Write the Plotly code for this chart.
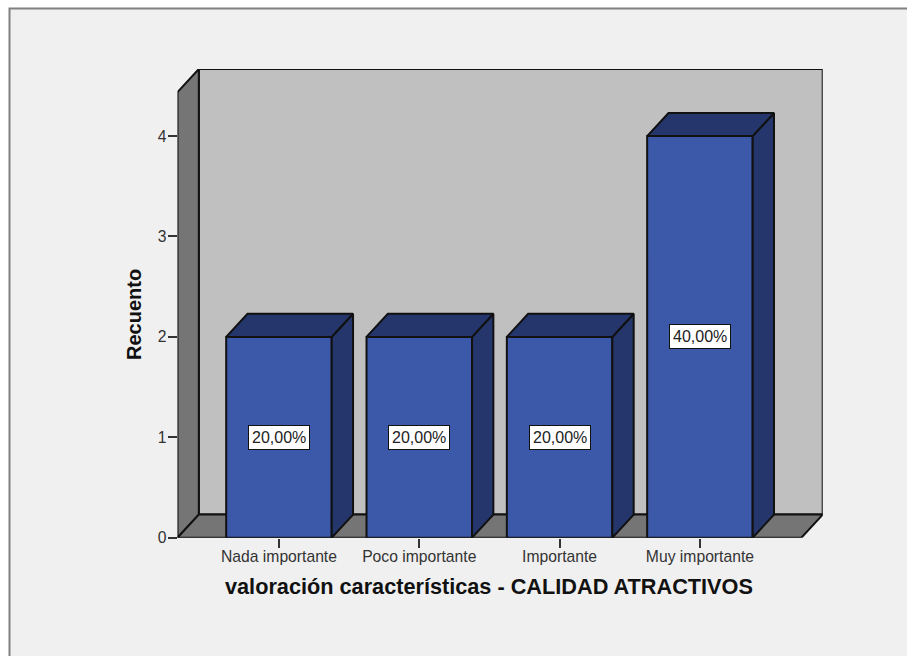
import plotly.graph_objects as go

categories = ["Nada importante", "Poco importante", "Importante", "Muy importante"]
counts = [2, 2, 2, 4]
percent_labels = ["20,00%", "20,00%", "20,00%", "40,00%"]
y_ticks = [0, 1, 2, 3, 4]
x_title = "valoración características - CALIDAD ATRACTIVOS"
y_title = "Recuento"

W, H = 907, 656
HP = 648  # height the plotting area resolves to in the page
FONT = "Liberation Sans"
FRONT, DARK = "#3c58a8", "#24366b"
WALL, SIDE, PANEL = "#c0c0c0", "#757575", "#f0f0f0"
LINE = "#111111"
LW = 2

X_RANGE = [-0.723, 3.875]
Y_RANGE = [0, 4.668]
DX, DY = 0.152, 0.23
BAR_W = 0.752
xs = list(range(len(categories)))

fig = go.Figure()

x0, x1 = X_RANGE
y1 = Y_RANGE[1]
def poly(pts, fill):
    path = "M " + " L ".join(f"{a},{b}" for a, b in pts) + " Z"
    return dict(type="path", xref="x", yref="y", path=path, fillcolor=fill,
                line=dict(color=LINE, width=LW), layer="below")

shapes = [
    dict(type="rect", xref="paper", yref="paper", x0=9.5 / W, x1=1.1,
         y0=-0.1, y1=1 - 8.5 / HP, fillcolor=PANEL,
         line=dict(color="#808080", width=2), layer="below"),
    poly([(x0 + DX, DY), (x1, DY), (x1, y1), (x0 + DX, y1)], WALL),
    poly([(x0, 0), (x0 + DX, DY), (x0 + DX, y1), (x0, y1 - DY)], SIDE),
    poly([(x0, 0), (x1 - DX, 0), (x1, DY), (x0 + DX, DY)], SIDE),
]

for x, v in zip(xs, counts):
    l, r = x - BAR_W / 2, x + BAR_W / 2
    fig.add_trace(go.Scatter(
        x=[r, r + DX, r + DX, r, r], y=[0, DY, v + DY, v, 0],
        mode="lines", fill="toself", fillcolor=DARK,
        line=dict(color=LINE, width=LW), hoverinfo="skip", showlegend=False))
    fig.add_trace(go.Scatter(
        x=[l, r, r + DX, l + DX, l], y=[v, v, v + DY, v + DY, v],
        mode="lines", fill="toself", fillcolor=DARK,
        line=dict(color=LINE, width=LW), hoverinfo="skip", showlegend=False))

fig.add_trace(go.Bar(x=xs, y=counts, width=BAR_W, marker=dict(
    color=FRONT, line=dict(color=LINE, width=LW)), showlegend=False))

annotations = [
    dict(x=x, y=v / 2, xref="x", yref="y", text=t, showarrow=False,
         font=dict(family=FONT, size=16, color="#222222"), bgcolor="white",
         bordercolor=LINE, borderwidth=1, borderpad=3)
    for x, v, t in zip(xs, counts, percent_labels)
]
annotations += [
    dict(x=489 / W, y=1 - 586 / HP, xref="paper", yref="paper", text=f"<b>{x_title}</b>",
         xanchor="center", yanchor="middle", showarrow=False,
         font=dict(family=FONT, size=21.7, color="#111111")),
    dict(x=134 / W, y=1 - 315 / HP, xref="paper", yref="paper", text=f"<b>{y_title}</b>",
         xanchor="center", yanchor="middle", showarrow=False, textangle=-90,
         font=dict(family=FONT, size=20, color="#111111")),
]

fig.update_layout(
    width=W, height=H, margin=dict(l=0, r=0, t=0, b=0),
    paper_bgcolor="white", plot_bgcolor="rgba(0,0,0,0)",
    shapes=shapes, annotations=annotations, showlegend=False,
    xaxis=dict(domain=[177.5 / W, 822.7 / W], range=X_RANGE, tickmode="array",
               tickvals=xs, ticktext=categories, ticks="outside", ticklen=9,
               tickwidth=1.5, tickcolor="#333333", showgrid=False, zeroline=False,
               ticklabelstandoff=-5,
               tickfont=dict(family=FONT, size=15.7, color="#333333")),
    yaxis=dict(domain=[1 - 537.7 / HP, 1 - 69 / HP], range=Y_RANGE, tickmode="array",
               tickvals=y_ticks, ticks="outside", ticklen=9, tickwidth=1.5,
               tickcolor="#333333", showgrid=False, zeroline=False,
               ticklabelstandoff=-2,
               tickfont=dict(family=FONT, size=15.7, color="#333333")),
)

fig.write_html("out.html", config={"displayModeBar": False},
               post_script="document.body.style.margin='0';")
